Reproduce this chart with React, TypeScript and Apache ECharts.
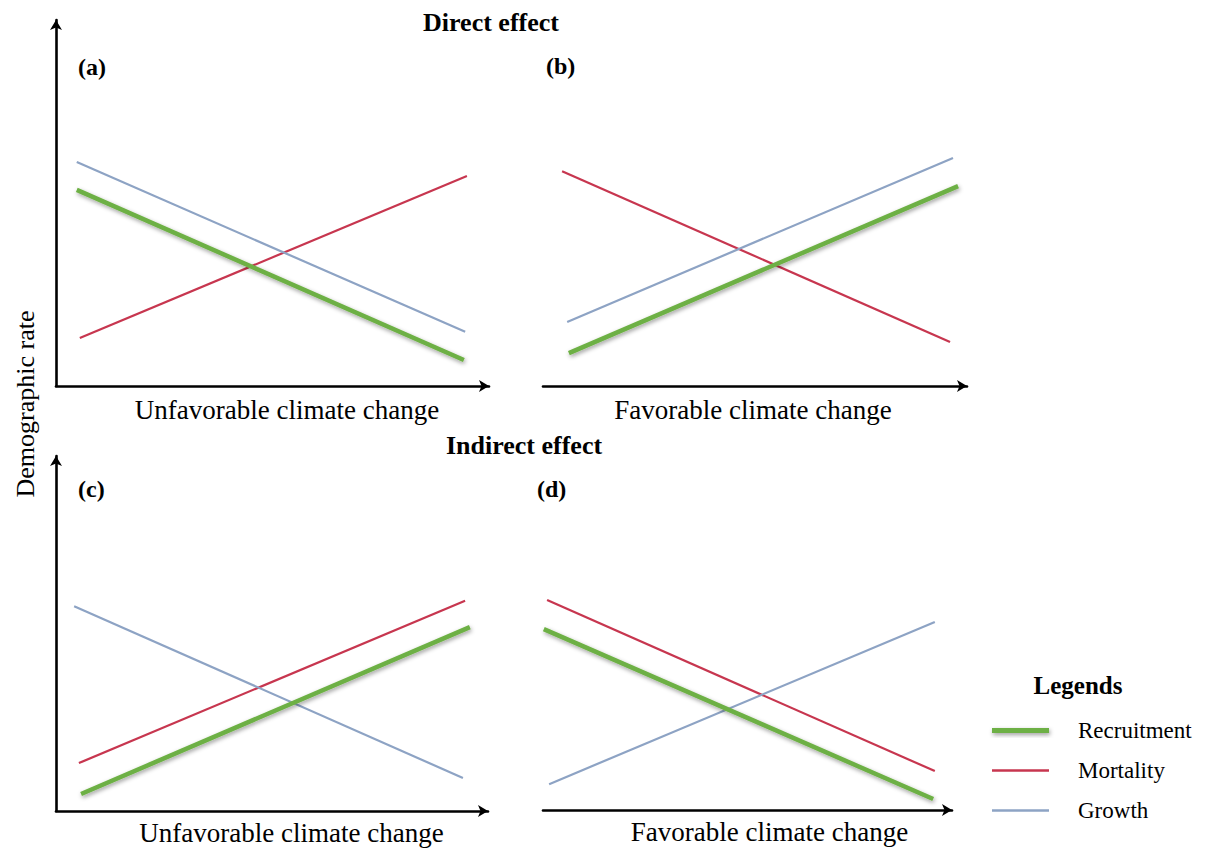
import React, { useEffect, useRef } from "react";
import * as echarts from "echarts";

// Conceptual demographic-rate responses, panel coordinates on a 0-100 scale
const recruitmentA = [[4.8, 53.6], [94.2, 7.1]];
const mortalityA = [[5.5, 13.1], [94.9, 57.4]];
const growthA = [[4.8, 61.2], [94.5, 14.8]];

const recruitmentB = [[6.1, 9.0], [97.9, 54.6]];
const mortalityB = [[4.5, 58.7], [96.0, 12.0]];
const growthB = [[5.7, 17.5], [96.7, 62.3]];

const recruitmentC = [[5.8, 4.8], [95.8, 51.8]];
const mortalityC = [[5.3, 13.5], [94.7, 59.2]];
const growthC = [[4.2, 57.7], [94.2, 9.3]];

const recruitmentD = [[0.2, 51.1], [95.4, 3.1]];
const mortalityD = [[1.0, 59.3], [95.8, 11.0]];
const growthD = [[1.5, 7.3], [95.8, 53.1]];

const panelLabels = ["(a)", "(b)", "(c)", "(d)"];
const xAxisNames = [
  "Unfavorable climate change",
  "Favorable climate change",
  "Unfavorable climate change",
  "Favorable climate change",
];
const sectionTitles = ["Direct effect", "Indirect effect"];
const yAxisTitle = "Demographic rate";
const legendTitle = "Legends";
const seriesNames = ["Recruitment", "Mortality", "Growth"];

const FONT = "'Liberation Serif', 'Times New Roman', serif";
const GREEN = "#6DB044";
const RED = "#C7364F";
const BLUE = "#8DA3C4";

const panelData = [
  [recruitmentA, mortalityA, growthA],
  [recruitmentB, mortalityB, growthB],
  [recruitmentC, mortalityC, growthC],
  [recruitmentD, mortalityD, growthD],
];

// grid boxes in pixels (axis line ends sit just before the arrow tips)
const grids = [
  { left: 56, top: 20, width: 433, height: 366 },
  { left: 543, top: 20, width: 424, height: 366 },
  { left: 56, top: 456, width: 432, height: 355 },
  { left: 543, top: 456, width: 409, height: 354 },
];
const showYAxis = [true, false, true, false];
const namePadding = [
  [0, 0, 0, 29],
  [0, 4, 0, 0],
  [0, 0, 0, 39],
  [0, 0, 0, 44],
];
const nameGaps = [10, 10, 8, 8];
const labelPos = [
  [78, 67],
  [546, 66],
  [78, 489],
  [537, 489],
];

const lineStyles = [
  {
    color: GREEN,
    width: 4.5,
    shadowColor: "rgba(0,0,0,0.38)",
    shadowBlur: 4,
    shadowOffsetX: 1,
    shadowOffsetY: 2,
  },
  { color: RED, width: 2.2 },
  { color: BLUE, width: 2.2 },
];
const colors = [GREEN, RED, BLUE];

// legend swatches: flat bars, thicker for recruitment
const legendIcons = [
  "path://M0,0H57V5H0Z",
  "path://M0,0H57V2.6H0Z",
  "path://M0,0H57V2.6H0Z",
];

export default function App() {
  const ref = useRef<HTMLDivElement>(null);

  useEffect(() => {
    if (!ref.current) return;
    const chart = echarts.init(ref.current, undefined, { renderer: "svg" });

    const axisLineStyle = { color: "#000", width: 2.6 };

    const xAxis = grids.map((_, i) => ({
      type: "value",
      gridIndex: i,
      min: 0,
      max: 100,
      axisLine: {
        show: true,
        lineStyle: axisLineStyle,
        symbol: ["none", "arrow"],
        symbolSize: [9, 10],
      },
      axisTick: { show: false },
      axisLabel: { show: false },
      splitLine: { show: false },
      name: xAxisNames[i],
      nameLocation: "middle",
      nameGap: nameGaps[i],
      nameTextStyle: {
        fontFamily: FONT,
        fontSize: 27,
        color: "#000",
        padding: namePadding[i],
      },
    }));

    const yAxis = grids.map((_, i) => ({
      type: "value",
      gridIndex: i,
      min: 0,
      max: 100,
      axisLine: {
        show: showYAxis[i],
        lineStyle: axisLineStyle,
        symbol: ["none", "arrow"],
        symbolSize: [9, 10],
      },
      axisTick: { show: false },
      axisLabel: { show: false },
      splitLine: { show: false },
    }));

    const series: any[] = [];
    panelData.forEach((lines, p) => {
      lines.forEach((pts, k) => {
        series.push({
          type: "line",
          name: seriesNames[k],
          xAxisIndex: p,
          yAxisIndex: p,
          data: pts,
          symbol: "none",
          clip: false,
          color: colors[k],
          lineStyle: lineStyles[k],
          z: k === 0 ? 3 : 2,
          silent: true,
        });
      });
    });

    const graphics: any[] = [
      {
        type: "text",
        x: 491,
        y: 22,
        style: {
          text: sectionTitles[0],
          font: `bold 26px ${FONT}`,
          fill: "#000",
          textAlign: "center",
          textVerticalAlign: "middle",
        },
      },
      {
        type: "text",
        x: 524,
        y: 445,
        style: {
          text: sectionTitles[1],
          font: `bold 26px ${FONT}`,
          fill: "#000",
          textAlign: "center",
          textVerticalAlign: "middle",
        },
      },
      {
        type: "text",
        x: 25,
        y: 404,
        rotation: Math.PI / 2,
        style: {
          text: yAxisTitle,
          font: `26px ${FONT}`,
          fill: "#000",
          textAlign: "center",
          textVerticalAlign: "middle",
        },
      },
      {
        type: "text",
        x: 1078,
        y: 685,
        style: {
          text: legendTitle,
          font: `bold 25px ${FONT}`,
          fill: "#000",
          textAlign: "center",
          textVerticalAlign: "middle",
        },
      },
      ...panelLabels.map((t, i) => ({
        type: "text",
        x: labelPos[i][0],
        y: labelPos[i][1],
        style: {
          text: t,
          font: `bold 24px ${FONT}`,
          fill: "#000",
          textAlign: "left",
          textVerticalAlign: "middle",
        },
      })),
    ];

    chart.setOption({
      animation: false,
      backgroundColor: "#fff",
      grid: grids.map((g) => ({ ...g, containLabel: false })),
      xAxis,
      yAxis,
      series,
      legend: {
        data: seriesNames.map((name, k) => ({
          name,
          icon: legendIcons[k],
          itemStyle:
            k === 0
              ? {
                  color: colors[k],
                  shadowColor: "rgba(0,0,0,0.38)",
                  shadowBlur: 4,
                  shadowOffsetX: 1,
                  shadowOffsetY: 2,
                }
              : { color: colors[k] },
        })),
        orient: "vertical",
        left: 992,
        top: 719,
        padding: 0,
        itemWidth: 57,
        itemHeight: 22,
        itemGap: 17,
        selectedMode: false,
        textStyle: {
          fontFamily: FONT,
          fontSize: 23,
          color: "#000",
          padding: [0, 0, 0, 24],
        },
      },
      graphic: graphics,
    });

    return () => chart.dispose();
  }, []);

  return (
    <div
      ref={ref}
      style={{ position: "fixed", left: 0, top: 0, width: 1212, height: 850 }}
    />
  );
}
